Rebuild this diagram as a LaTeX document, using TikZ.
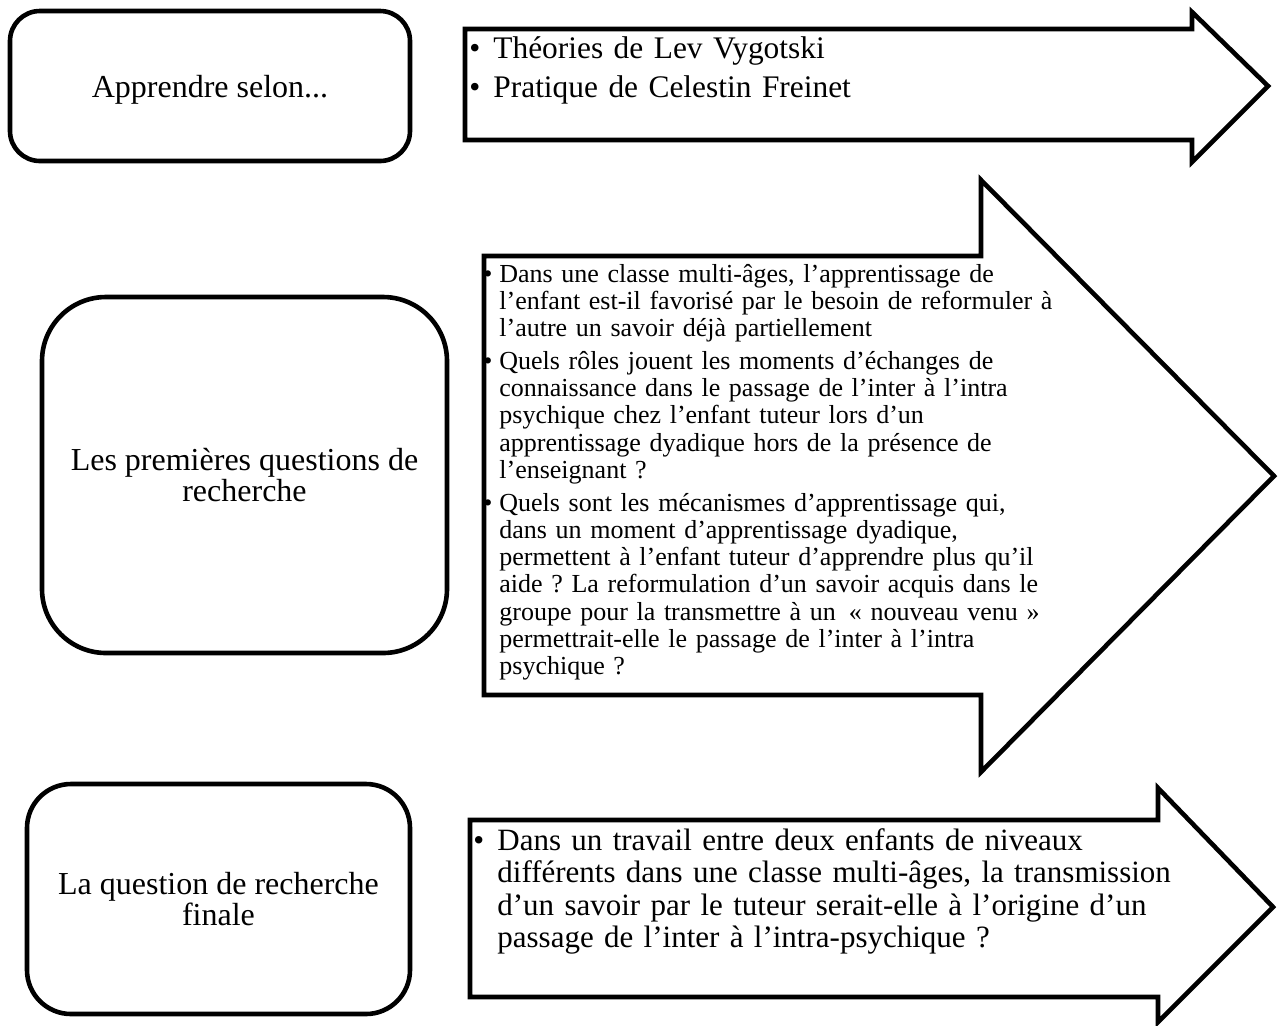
\documentclass[tikz,border=0pt]{standalone}
\usepackage{fontspec}
\setmainfont{Liberation Serif}
\usetikzlibrary{positioning}
\frenchspacing
\newcommand{\puce}[1]{\noindent\hangindent=#1\hangafter=1\makebox[#1][l]{\textbullet}\ignorespaces}
\tikzset{
  boite/.style  = {draw, line width=2.3pt, align=center, inner sep=0pt, text depth=0pt,
                   font=\fontsize{16}{15.5}\selectfont},
  fleche/.style = {draw, line width=2.3pt, line join=miter},
  liste/.style  = {inner sep=0pt, anchor=base west},
}
\begin{document}
\begin{tikzpicture}[x=0.5pt, y=-0.5pt]
  \useasboundingbox (0,0) rectangle (1280,1025);
  % boites de gauche
  \node[boite, minimum width=200pt, minimum height=75pt, rounded corners=15pt] (b1) at (210,86) {Apprendre selon...};
  \node[boite, minimum width=202.5pt, minimum height=178pt, rounded corners=32pt] (b2) at (244.5,475) {Les premières questions de\\recherche};
  \node[boite, minimum width=191.5pt, minimum height=115pt, rounded corners=22pt] (b3) at (218.5,899) {La question de recherche\\finale};
  % fleches
  \draw[fleche] (465,29) -- (1192,29) -- (1192,12) -- (1268,86) -- (1192,162) -- (1192,140) -- (465,140) -- cycle;
  \draw[fleche] (484,256) -- (981,256) -- (981,180) -- (1274,476) -- (981,772) -- (981,695) -- (484,695) -- cycle;
  \draw[fleche] (470,820) -- (1158,820) -- (1158,788) -- (1273,907) -- (1158,1022) -- (1158,997) -- (470,997) -- cycle;
  % textes des fleches
  \node[liste, text width=330pt, font=\fontsize{15.7}{19.5}\selectfont] (t1) at (469,58)
    {\puce{12pt}Théories de Lev Vygotski\par
     \puce{12pt}Pratique de Celestin Freinet\par};
  \node[liste, text width=300pt, font=\fontsize{13}{13.6}\selectfont] (t2) at (483,282)
    {\puce{8pt}Dans une classe multi-âges, l’apprentissage de\newline
     l’enfant est-il favorisé par le besoin de reformuler à\newline
     l’autre un savoir déjà partiellement\par
     \vspace{2.9pt}
     \puce{8pt}Quels rôles jouent les moments d’échanges de\newline
     connaissance dans le passage de l’inter à l’intra\newline
     psychique chez l’enfant tuteur lors d’un\newline
     apprentissage dyadique hors de la présence de\newline
     l’enseignant ?\par
     \vspace{2.9pt}
     \puce{8pt}Quels sont les mécanismes d’apprentissage qui,\newline
     dans un moment d’apprentissage dyadique,\newline
     permettent à l’enfant tuteur d’apprendre plus qu’il\newline
     aide ? La reformulation d’un savoir acquis dans le\newline
     groupe pour la transmettre à un\enspace« nouveau venu »\newline
     permettrait-elle le passage de l’inter à l’intra\newline
     psychique ?\par};
  \node[liste, text width=370pt, font=\fontsize{15.5}{16.3}\selectfont] (t3) at (473,850)
    {\puce{12pt}Dans un travail entre deux enfants de niveaux\newline
     différents dans une classe multi-âges, la transmission\newline
     d’un savoir par le tuteur serait-elle à l’origine d’un\newline
     passage de l’inter à l’intra-psychique ?\par};
\end{tikzpicture}
\end{document}
